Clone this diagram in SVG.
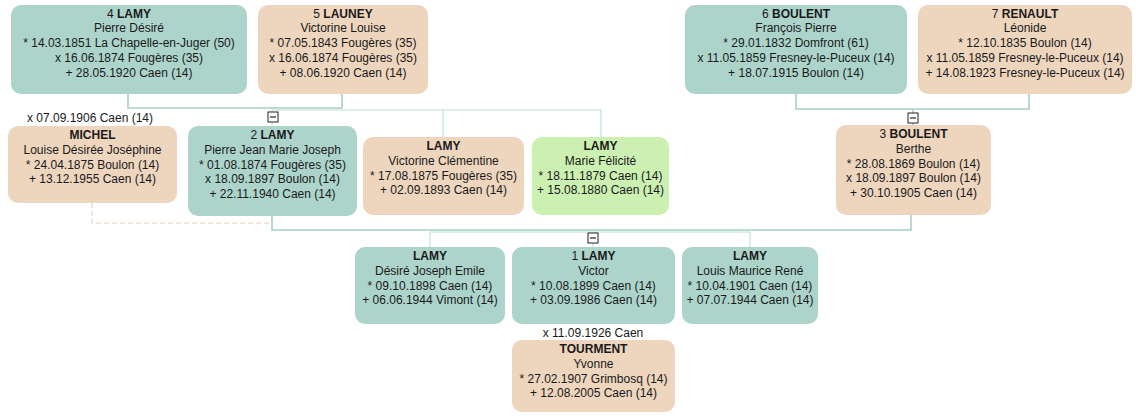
<svg xmlns="http://www.w3.org/2000/svg" width="1136" height="416" viewBox="0 0 1136 416">
<style>
text{font-family:"Liberation Sans",Arial,sans-serif;font-size:12px;fill:#1a1a1a;text-anchor:middle}
.b{font-weight:bold}
.m{fill:#acd4cb}
.f{fill:#edd5be}
.g{fill:#ccf0b2}
.pl{fill:none;stroke:#a8cfc7;stroke-width:1.6}
.cl{fill:none;stroke:#d2e9e4;stroke-width:1.6}
.dl{fill:none;stroke:#f0dfcf;stroke-width:1.6;stroke-dasharray:5 3}
.mi rect{fill:#fff;stroke:#222;stroke-width:1}
.mi line{stroke:#222;stroke-width:1.2}
</style>
<rect width="1136" height="416" fill="#fff"/>
<g id="connectors">
<path class="cl" d="M272,110 H602 M443,110 V137 M601,110 V137 M272,110 V126"/>
<path class="pl" d="M128,94 V108 H342 V94"/>
<path class="pl" d="M796,94 V109 H1029 V94 M913,109 V125"/>
<path class="dl" d="M92,203 V223 H272"/>
<path class="cl" d="M430,232 H750 M430,232 V247 M750,232 V247 M593,232 V247"/>
<path class="pl" d="M272,216 V230 H911 V215"/>
</g>
<g id="toggles">
<g class="mi" transform="translate(273,117)"><rect x="-5" y="-5" width="10" height="10"/><line x1="-3" y1="0" x2="3" y2="0"/></g>
<g class="mi" transform="translate(913,118)"><rect x="-5" y="-5" width="10" height="10"/><line x1="-3" y1="0" x2="3" y2="0"/></g>
<g class="mi" transform="translate(593,238)"><rect x="-5" y="-5" width="10" height="10"/><line x1="-3" y1="0" x2="3" y2="0"/></g>
</g>
<g id="n4">
<rect class="m" x="11" y="5" width="236" height="89" rx="10"/>
<text x="129" y="17.5">4 <tspan class="b">LAMY</tspan></text>
<text x="129" y="32.3">Pierre Désiré</text>
<text x="129" y="47.1">* 14.03.1851 La Chapelle-en-Juger (50)</text>
<text x="129" y="61.9">x 16.06.1874 Fougères (35)</text>
<text x="129" y="76.7">+ 28.05.1920 Caen (14)</text>
</g>
<g id="n5">
<rect class="f" x="258" y="5" width="170" height="89" rx="10"/>
<text x="343" y="17.5">5 <tspan class="b">LAUNEY</tspan></text>
<text x="343" y="32.3">Victorine Louise</text>
<text x="343" y="47.1">* 07.05.1843 Fougères (35)</text>
<text x="343" y="61.9">x 16.06.1874 Fougères (35)</text>
<text x="343" y="76.7">+ 08.06.1920 Caen (14)</text>
</g>
<g id="n6">
<rect class="m" x="685" y="5" width="222" height="89" rx="10"/>
<text x="796" y="17.5">6 <tspan class="b">BOULENT</tspan></text>
<text x="796" y="32.3">François Pierre</text>
<text x="796" y="47.1">* 29.01.1832 Domfront (61)</text>
<text x="796" y="61.9">x 11.05.1859 Fresney-le-Puceux (14)</text>
<text x="796" y="76.7">+ 18.07.1915 Boulon (14)</text>
</g>
<g id="n7">
<rect class="f" x="918" y="5" width="214" height="89" rx="10"/>
<text x="1025" y="17.5">7 <tspan class="b">RENAULT</tspan></text>
<text x="1025" y="32.3">Léonide</text>
<text x="1025" y="47.1">* 12.10.1835 Boulon (14)</text>
<text x="1025" y="61.9">x 11.05.1859 Fresney-le-Puceux (14)</text>
<text x="1025" y="76.7">+ 14.08.1923 Fresney-le-Puceux (14)</text>
</g>
<g id="m1"><text x="90" y="122">x 07.09.1906 Caen (14)</text></g>
<g id="nMichel">
<rect class="f" x="8" y="126" width="169" height="77" rx="10"/>
<text class="b" x="92.5" y="139">MICHEL</text>
<text x="92.5" y="153.8">Louise Désirée Joséphine</text>
<text x="92.5" y="168.6">* 24.04.1875 Boulon (14)</text>
<text x="92.5" y="183.4">+ 13.12.1955 Caen (14)</text>
</g>
<g id="n2">
<rect class="m" x="188" y="126" width="169" height="90" rx="10"/>
<text x="272.5" y="139">2 <tspan class="b">LAMY</tspan></text>
<text x="272.5" y="153.8">Pierre Jean Marie Joseph</text>
<text x="272.5" y="168.6">* 01.08.1874 Fougères (35)</text>
<text x="272.5" y="183.4">x 18.09.1897 Boulon (14)</text>
<text x="272.5" y="198.2">+ 22.11.1940 Caen (14)</text>
</g>
<g id="nVictorine">
<rect class="f" x="363" y="137" width="161" height="78" rx="10"/>
<text class="b" x="443.5" y="150">LAMY</text>
<text x="443.5" y="164.8">Victorine Clémentine</text>
<text x="443.5" y="179.6">* 17.08.1875 Fougères (35)</text>
<text x="443.5" y="194.4">+ 02.09.1893 Caen (14)</text>
</g>
<g id="nMarie">
<rect class="g" x="532" y="137" width="137" height="78" rx="10"/>
<text class="b" x="600.5" y="150">LAMY</text>
<text x="600.5" y="164.8">Marie Félicité</text>
<text x="600.5" y="179.6">* 18.11.1879 Caen (14)</text>
<text x="600.5" y="194.4">+ 15.08.1880 Caen (14)</text>
</g>
<g id="n3">
<rect class="f" x="836" y="125" width="155" height="90" rx="10"/>
<text x="913.5" y="138">3 <tspan class="b">BOULENT</tspan></text>
<text x="913.5" y="152.8">Berthe</text>
<text x="913.5" y="167.6">* 28.08.1869 Boulon (14)</text>
<text x="913.5" y="182.4">x 18.09.1897 Boulon (14)</text>
<text x="913.5" y="197.2">+ 30.10.1905 Caen (14)</text>
</g>
<g id="nDesire">
<rect class="m" x="355" y="247" width="150" height="77" rx="10"/>
<text class="b" x="430" y="260">LAMY</text>
<text x="430" y="274.8">Désiré Joseph Emile</text>
<text x="430" y="289.6">* 09.10.1898 Caen (14)</text>
<text x="430" y="304.4">+ 06.06.1944 Vimont (14)</text>
</g>
<g id="n1">
<rect class="m" x="512" y="247" width="163" height="77" rx="10"/>
<text x="593.5" y="260">1 <tspan class="b">LAMY</tspan></text>
<text x="593.5" y="274.8">Victor</text>
<text x="593.5" y="289.6">* 10.08.1899 Caen (14)</text>
<text x="593.5" y="304.4">+ 03.09.1986 Caen (14)</text>
</g>
<g id="nLouis">
<rect class="m" x="682" y="247" width="136" height="77" rx="10"/>
<text class="b" x="750" y="260">LAMY</text>
<text x="750" y="274.8">Louis Maurice René</text>
<text x="750" y="289.6">* 10.04.1901 Caen (14)</text>
<text x="750" y="304.4">+ 07.07.1944 Caen (14)</text>
</g>
<g id="m2"><text x="593" y="337">x 11.09.1926 Caen</text></g>
<g id="nTourment">
<rect class="f" x="512" y="340" width="163" height="72" rx="10"/>
<text class="b" x="593.5" y="353">TOURMENT</text>
<text x="593.5" y="367.8">Yvonne</text>
<text x="593.5" y="382.6">* 27.02.1907 Grimbosq (14)</text>
<text x="593.5" y="397.4">+ 12.08.2005 Caen (14)</text>
</g>
</svg>
